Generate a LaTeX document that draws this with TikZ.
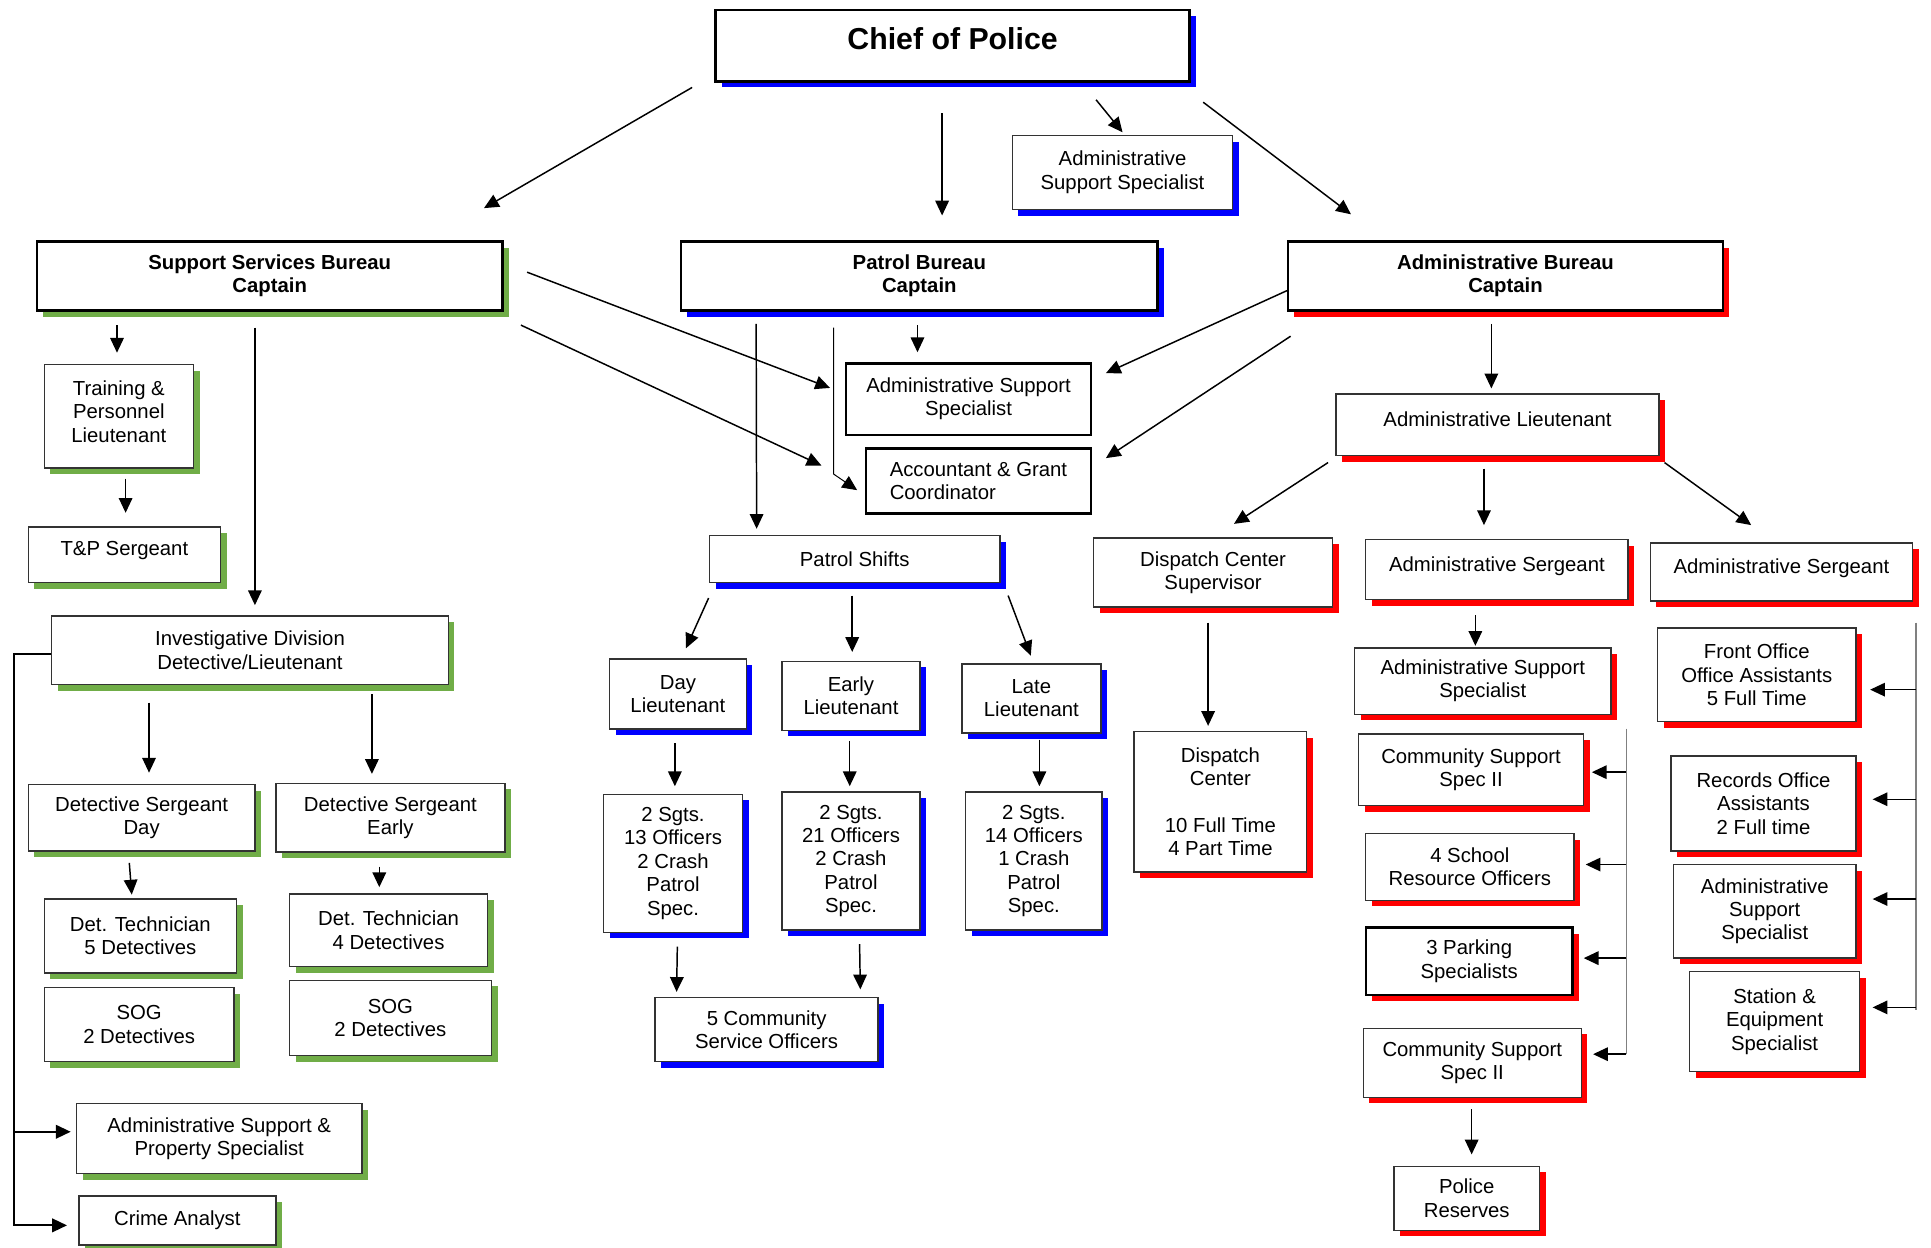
\documentclass[tikz,border=0pt]{standalone}
\usepackage{fontspec}
\setmainfont{Liberation Sans}
\usepackage{tikz}
\usetikzlibrary{calc,arrows.meta,shadows}
\definecolor{ssbgreen}{RGB}{112,173,71}
\tikzstyle{box} = [draw=black!80,line width=1.2pt,fill=white,inner sep=2pt,align=center]
\tikzstyle{green box} = [box,drop shadow={shadow xshift=5pt,shadow yshift=-5pt,fill=ssbgreen,opacity=1}]
\tikzstyle{blue box} = [box,drop shadow={shadow xshift=5pt,shadow yshift=-5pt,fill=blue,opacity=1}]
\tikzstyle{red box} = [box,drop shadow={shadow xshift=5pt,shadow yshift=-5pt,fill=red,opacity=1}]
\tikzstyle{bold frame} = [draw=black,line width=2pt]
\tikzstyle{bureau} = [font=\fontsize{16.5}{19}\selectfont\bfseries]
\tikzstyle{arr} = [line width=1.2pt,-{Triangle[length=12pt,width=11pt]}]
\tikzstyle{rail} = [line width=1.3pt,black!50]

\begin{document}
\begin{tikzpicture}[x=1pt,y=-1pt,
                    font=\fontsize{16.5}{19}\selectfont
                    ]
\useasboundingbox (0,0) rectangle (1568,1013);
\fill[white] (0,0) rectangle (1568,1013);

    \node(chief)[blue box,bold frame,minimum width=385pt,minimum height=58pt,text depth=12pt,
                 font=\fontsize{24.6}{29}\selectfont\bfseries] at (773.5,37) {Chief of Police};
    \node(ass1)[blue box,minimum width=179pt,minimum height=60pt] at (911.5,140) {Administrative\\Support Specialist};

    % Bureaus
    \node(ssb)[green box,bold frame,bureau,minimum width=378pt,minimum height=56pt] at (219,224) {Support Services Bureau\\Captain};
    \node(pb)[blue box,bold frame,bureau,minimum width=387pt,minimum height=56pt] at (746.5,224) {Patrol Bureau\\Captain};
    \node(ab)[red box,bold frame,bureau,minimum width=353pt,minimum height=56pt] at (1222.5,224) {Administrative Bureau\\Captain};

    % Support services side
    \node(train)[green box,minimum width=121pt,minimum height=84pt,text depth=8pt] at (96.5,338) {Training \&\\Personnel\\Lieutenant};
    \node(tp)[green box,minimum width=156pt,minimum height=45pt,text depth=11pt] at (101,450.5) {T\&P Sergeant};
    \node(inv)[green box,minimum width=322pt,minimum height=56pt] at (203,528) {Investigative Division\\Detective/Lieutenant};
    \node(dsd)[green box,minimum width=184pt,minimum height=54pt] at (115,664) {Detective Sergeant\\Day};
    \node(dse)[green box,minimum width=186pt,minimum height=56pt] at (317,664) {Detective Sergeant\\Early};
    \node(dt5)[green box,minimum width=156pt,minimum height=60pt] at (114,760) {Det. Technician\\5 Detectives};
    \node(dt4)[green box,minimum width=161pt,minimum height=59pt] at (315.5,755.5) {Det. Technician\\4 Detectives};
    \node(sogd)[green box,minimum width=154pt,minimum height=60pt] at (113,832) {SOG\\2 Detectives};
    \node(soge)[green box,minimum width=164pt,minimum height=61pt] at (317,826.5) {SOG\\2 Detectives};
    \node(asp)[green box,minimum width=232pt,minimum height=57pt] at (178,924.5) {Administrative Support \&\\Property Specialist};
    \node(ca)[green box,minimum width=160pt,minimum height=40pt] at (144,991) {Crime Analyst};

    % Patrol side
    \node(ass2)[box,bold frame,minimum width=199pt,minimum height=58pt] at (786.5,324) {Administrative Support\\Specialist};
    \node(acc)[box,bold frame,align=left,minimum width=183pt,minimum height=53pt] at (794.5,390.5) {Accountant \& Grant\\Coordinator};
    \node(ps)[blue box,minimum width=236pt,minimum height=38pt] at (694,454) {Patrol Shifts};
    \node(dlt)[blue box,minimum width=111pt,minimum height=57pt] at (550.5,563.5) {Day\\Lieutenant};
    \node(elt)[blue box,minimum width=112pt,minimum height=56pt] at (691,565) {Early\\Lieutenant};
    \node(llt)[blue box,minimum width=113pt,minimum height=56pt] at (837.5,567) {Late\\Lieutenant};
    \node(dsq)[blue box,minimum width=113pt,minimum height=112pt] at (546.5,701) {2 Sgts.\\13 Officers\\2 Crash\\Patrol\\Spec.};
    \node(esq)[blue box,minimum width=112pt,minimum height=112pt] at (691,699) {2 Sgts.\\21 Officers\\2 Crash\\Patrol\\Spec.};
    \node(lsq)[blue box,minimum width=111pt,minimum height=112pt] at (839.5,699) {2 Sgts.\\14 Officers\\1 Crash\\Patrol\\Spec.};
    \node(cso)[blue box,minimum width=181pt,minimum height=52pt] at (622.5,836) {5 Community\\Service Officers};

    % Administrative side
    \node(alt)[red box,minimum width=262pt,minimum height=50pt,text depth=10pt] at (1216,345) {Administrative Lieutenant};
    \node(dcs)[red box,minimum width=194pt,minimum height=56pt] at (985,465) {Dispatch Center\\Supervisor};
    \node(as1)[red box,minimum width=213pt,minimum height=49pt,text depth=9pt] at (1215.5,462.5) {Administrative Sergeant};
    \node(as2)[red box,minimum width=213pt,minimum height=47pt,text depth=9pt] at (1446.5,464.5) {Administrative Sergeant};
    \node(dc)[red box,minimum width=140pt,minimum height=114pt] at (991,651) {Dispatch\\Center\\[19pt]10 Full Time\\4 Part Time};
    \node(ass3)[red box,minimum width=208pt,minimum height=54pt] at (1204,553) {Administrative Support\\Specialist};
    \node(cssa)[red box,minimum width=183pt,minimum height=58pt] at (1194.5,625) {Community Support\\Spec II};
    \node(sro)[red box,minimum width=169pt,minimum height=54pt] at (1193.5,704) {4 School\\Resource Officers};
    \node(pk)[red box,bold frame,minimum width=168pt,minimum height=55pt] at (1193,780.5) {3 Parking\\Specialists};
    \node(cssb)[red box,minimum width=177pt,minimum height=56pt] at (1195.5,863) {Community Support\\Spec II};
    \node(pr)[red box,minimum width=118pt,minimum height=52pt] at (1191,973) {Police\\Reserves};
    \node(fo)[red box,minimum width=161pt,minimum height=76pt] at (1426.5,548) {Front Office\\Office Assistants\\5 Full Time};
    \node(ro)[red box,minimum width=150pt,minimum height=77pt] at (1432,652.5) {Records Office\\Assistants\\2 Full time};
    \node(ass4)[red box,minimum width=148pt,minimum height=76pt] at (1433,740) {Administrative\\Support\\Specialist};
    \node(se)[red box,minimum width=138pt,minimum height=81pt] at (1441,829.5) {Station \&\\Equipment\\Specialist};

    % Chief of Police down to the bureaus
    \draw[arr] ($(chief.south west)+(-18,4)$) -- ($(ssb.north east)+(-16,-26)$);
    \draw[arr] ($(chief.south)+(-8.5,25)$) -- ($(pb.north)+(18.5,-20)$);
    \draw[arr] ($(chief.south)+(116.5,14)$) -- ($(ass1.north)+(0,-2)$);
    \draw[arr] ($(chief.south east)+(10,16)$) -- ($(ab.north west)+(52,-21)$);

    % Support Services Bureau
    \draw[arr] ($(train.north |- ssb.south)+(-1.5,11)$) -- ($(train.north)+(-1.5,-9)$);
    \draw[arr] ($(tp.north |- train.south)+(1,8)$) -- ($(tp.north)+(1,-11)$);
    \draw[arr] ($(inv.north |- ssb.south)+(4,13)$) -- ($(inv.north)+(4,-8)$);
    \draw[arr,line width=1.6pt] ($(inv.west)+(0,3)$) -| ($(ca.west)+(-52,4)$) -- ($(ca.west)+(-9,4)$);
    \draw[arr,line width=1.6pt] ($(asp.west)+(-50,-5.5)$) -- ($(asp.west)+(-4,-5.5)$);
    \draw[arr] ($(dsd.north |- inv.south)+(6,14)$) -- ($(dsd.north)+(6,-9)$);
    \draw[arr] ($(dse.north |- inv.south)+(-15,7)$) -- ($(dse.north)+(-15,-7)$);
    \draw[arr] ($(dsd.south)+(-10,9)$) -- ($(dt5.north)+(-7,-3)$);
    \draw[arr] ($(dse.south)+(-9,11)$) -- ($(dt4.north)+(-7.5,-5)$);

    % Patrol Bureau, and the shared staff in the middle
    \draw[arr] ($(pb.south west)+(62,10)$) -- ($(ps.north west)+(39,-5)$);
    \draw[arr,line width=0.8pt] ($(pb.south west)+(125,13)$) -- ($(acc.west)+(-25,-5.5)$) -- ($(acc.west)+(-6,7.5)$);
    \draw[arr] ($(pb.south)+(-1.5,11)$) -- ($(ass2.north)+(-41.5,-8)$);
    \draw[arr] ($(ssb.east)+(19,-3)$) -- ($(ass2.west)+(-12,-9)$);
    \draw[arr] ($(ssb.south east)+(14,11)$) -- ($(acc.west)+(-35,-12.5)$);
    \draw[arr] ($(ab.west)+(0,12)$) -- ($(ass2.east)+(11,-21)$);
    \draw[arr] ($(ab.south west)+(3,20)$) -- ($(acc.east)+(11,-18.5)$);
    \draw[arr] ($(ps.south west)+(0,12)$) -- ($(dlt.north)+(6.5,-8)$);
    \draw[arr] ($(ps.south)+(-2,10)$) -- ($(elt.north)+(1,-7)$);
    \draw[arr] ($(ps.south east)+(6,10)$) -- ($(llt.north)+(-0.5,-6)$);
    \draw[arr] ($(dlt.south)+(-2.5,11)$) -- ($(dsq.north)+(1.5,-6)$);
    \draw[arr] ($(elt.south)+(-1,8)$) -- ($(esq.north)+(-1,-4)$);
    \draw[arr] ($(llt.south)+(6.5,5)$) -- ($(lsq.north)+(4.5,-4)$);
    \draw[arr] ($(dsq.south)+(3.5,11)$) -- ($(cso.north west)+(18,-4)$);
    \draw[arr] ($(esq.south)+(7,11)$) -- ($(cso.north east)+(-15,-6)$);

    % Administrative Bureau
    \draw[arr] ($(ab.south)+(-11.5,10)$) -- ($(alt.north)+(-5,-4)$);
    \draw[arr] ($(alt.south west)+(-6,5)$) -- ($(dcs.north)+(17,-11)$);
    \draw[arr] ($(alt.south)+(-11,10)$) -- ($(as1.north)+(-10.5,-11)$);
    \draw[arr] ($(alt.south east)+(4,5)$) -- ($(as2.north)+(-24.5,-14)$);
    \draw[arr] ($(dcs.south)+(-4,12)$) -- ($(dc.north)+(-10,-4)$);
    \draw[arr] ($(as1.south)+(-17.5,12)$) -- ($(ass3.north)+(-6,-1)$);
    \draw[arr] ($(cssb.south)+(-0.5,9)$) -- ($(pr.north)+(4,-9)$);

    % Rails feeding the sergeants' units
    \coordinate (midrail) at ($(ass3.south east)+(12,11)$);
    \draw[rail] (midrail) -- ($(midrail |- cssb.east)+(0,-7)$);
    \draw[arr] ($(midrail |- cssa.east)+(0,2)$) -- ($(cssa.east)+(6,2)$);
    \draw[arr] ($(midrail |- sro.east)+(0,-2)$) -- ($(sro.east)+(9,-2)$);
    \draw[arr] ($(midrail |- pk.east)+(0,-2.5)$) -- ($(pk.east)+(8,-2.5)$);
    \draw[arr] ($(midrail |- cssb.east)+(0,-7)$) -- ($(cssb.east)+(9,-7)$);

    \coordinate (siderail) at ($(as2.south east)+(2,17)$);
    \draw[rail] (siderail) -- ($(siderail |- se.east)+(0,-9.5)$);
    \draw[arr] ($(siderail |- fo.east)+(0,12)$) -- ($(fo.east)+(11,12)$);
    \draw[arr] ($(siderail |- ro.east)+(0,-3.5)$) -- ($(ro.east)+(13,-3.5)$);
    \draw[arr] ($(siderail |- ass4.east)+(0,-10)$) -- ($(ass4.east)+(13,-10)$);
    \draw[arr] ($(siderail |- se.east)+(0,-11.5)$) -- ($(se.east)+(10,-11.5)$);

\end{tikzpicture}
\end{document}
